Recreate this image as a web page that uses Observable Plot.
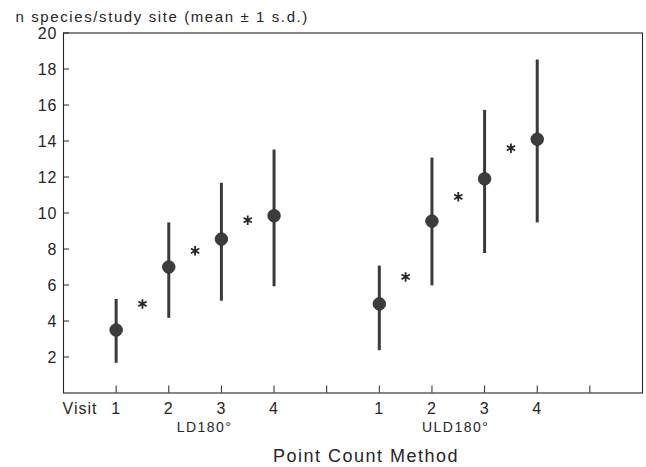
<!DOCTYPE html>
<html>
<head>
<meta charset="utf-8">
<script src="https://cdn.jsdelivr.net/npm/d3@7"></script>
<script src="https://cdn.jsdelivr.net/npm/@observablehq/plot@0.6"></script>
<style>
  body { margin: 0; background: #fff; }
  #chart svg text { letter-spacing: 1px; }
  #chart svg g[font-size="15"] text { letter-spacing: 1.6px; }
  #chart svg g[font-size="14"] text { letter-spacing: 1.5px; }
  #chart svg g[font-size="18"] text { letter-spacing: 1.5px; }
</style>
</head>
<body>
<div id="chart"></div>
<script>
// Species richness per study site by point-count method and visit
const methods = ["LD180°", "LD180°", "LD180°", "LD180°", "ULD180°", "ULD180°", "ULD180°", "ULD180°"];
const visits = [1, 2, 3, 4, 1, 2, 3, 4];
const positions = [1, 2, 3, 4, 6, 7, 8, 9];           // slot on the x axis
const means = [3.5, 7.0, 8.55, 9.85, 4.95, 9.55, 11.9, 14.1];
const lows = [1.65, 4.15, 5.1, 5.9, 2.35, 5.95, 7.75, 9.45];   // mean - 1 s.d.
const highs = [5.2, 9.45, 11.65, 13.5, 7.05, 13.05, 15.7, 18.5]; // mean + 1 s.d.

// Significant differences between consecutive visits
const starPositions = [1.5, 2.5, 3.5, 6.5, 7.5, 8.5];
const starValues = [4.95, 7.9, 9.6, 6.45, 10.9, 13.6];

const groupLabels = ["LD180°", "ULD180°"];
const groupLabelPos = [2.68, 7.45];

const yTicks = [2, 4, 6, 8, 10, 12, 14, 16, 18, 20];
const xTicks = [1, 2, 3, 4, 5, 6, 7, 8, 9, 10];

const rows = methods.map((m, i) => ({
  method: m, visit: visits[i], pos: positions[i],
  mean: means[i], low: lows[i], high: highs[i]
}));
const stars = starPositions.map((p, i) => ({pos: p, value: starValues[i]}));
const groups = groupLabels.map((g, i) => ({label: g, pos: groupLabelPos[i]}));

const W = 646, H = 467;
const mL = 63, mR = 4, mT = 32.5, mB = 74.5;
const plotW = W - mL - mR, plotH = H - mT - mB;
const ink = "#262626";

const chart = Plot.plot({
  width: W, height: H,
  marginLeft: mL, marginRight: mR, marginTop: mT, marginBottom: mB,
  style: {fontFamily: "'Liberation Sans', Arial, sans-serif", color: ink, background: "#fff"},
  x: {domain: [0, 11], axis: null},
  y: {domain: [0, 20], axis: null},
  marks: [
    Plot.frame({stroke: ink, strokeWidth: 1.1}),
    // inward ticks
    Plot.tickY(yTicks, {y: d => d, insetRight: plotW - 6, stroke: ink}),
    Plot.tickX(xTicks, {x: d => d, insetTop: plotH - 7, stroke: ink}),
    // y tick labels
    Plot.text(yTicks, {y: d => d, text: d => String(d), frameAnchor: "left", textAnchor: "end", lineAnchor: "middle", dx: -6, dy: 1, fontSize: 16, fill: ink}),
    // visit labels under each slot
    Plot.text(rows, {x: "pos", text: d => String(d.visit), frameAnchor: "bottom", lineAnchor: "middle", dy: 15.5, fontSize: 16, fill: ink}),
    Plot.text(["Visit"], {text: d => d, frameAnchor: "bottom-left", textAnchor: "start", lineAnchor: "middle", dx: -1, dy: 15.5, fontSize: 16, fill: ink}),
    // method labels
    Plot.text(groups, {x: "pos", text: "label", frameAnchor: "bottom", lineAnchor: "middle", dy: 34.5, fontSize: 14, fill: ink}),
    // axis titles
    Plot.text(["Point Count Method"], {text: d => d, frameAnchor: "bottom", lineAnchor: "middle", dx: 13, dy: 63, fontSize: 18, fill: ink}),
    Plot.text(["n species/study site (mean ± 1 s.d.)"], {text: d => d, frameAnchor: "top-left", textAnchor: "start", lineAnchor: "middle", dx: -48, dy: -15.5, fontSize: 15, fill: ink}),
    // mean ± 1 s.d.
    Plot.ruleX(rows, {x: "pos", y1: "low", y2: "high", stroke: "#3a3a3a", strokeWidth: 3}),
    Plot.dot(rows, {x: "pos", y: "mean", r: 6.3, fill: "#3c3c3c", stroke: "#2e2e2e", strokeWidth: 0.8}),
    // significance markers
    Plot.dot(stars, {x: "pos", y: "value", symbol: "asterisk", r: 4.5, stroke: ink, strokeWidth: 1.8})
  ]
});

document.getElementById("chart").appendChild(chart);
</script>
</body>
</html>
